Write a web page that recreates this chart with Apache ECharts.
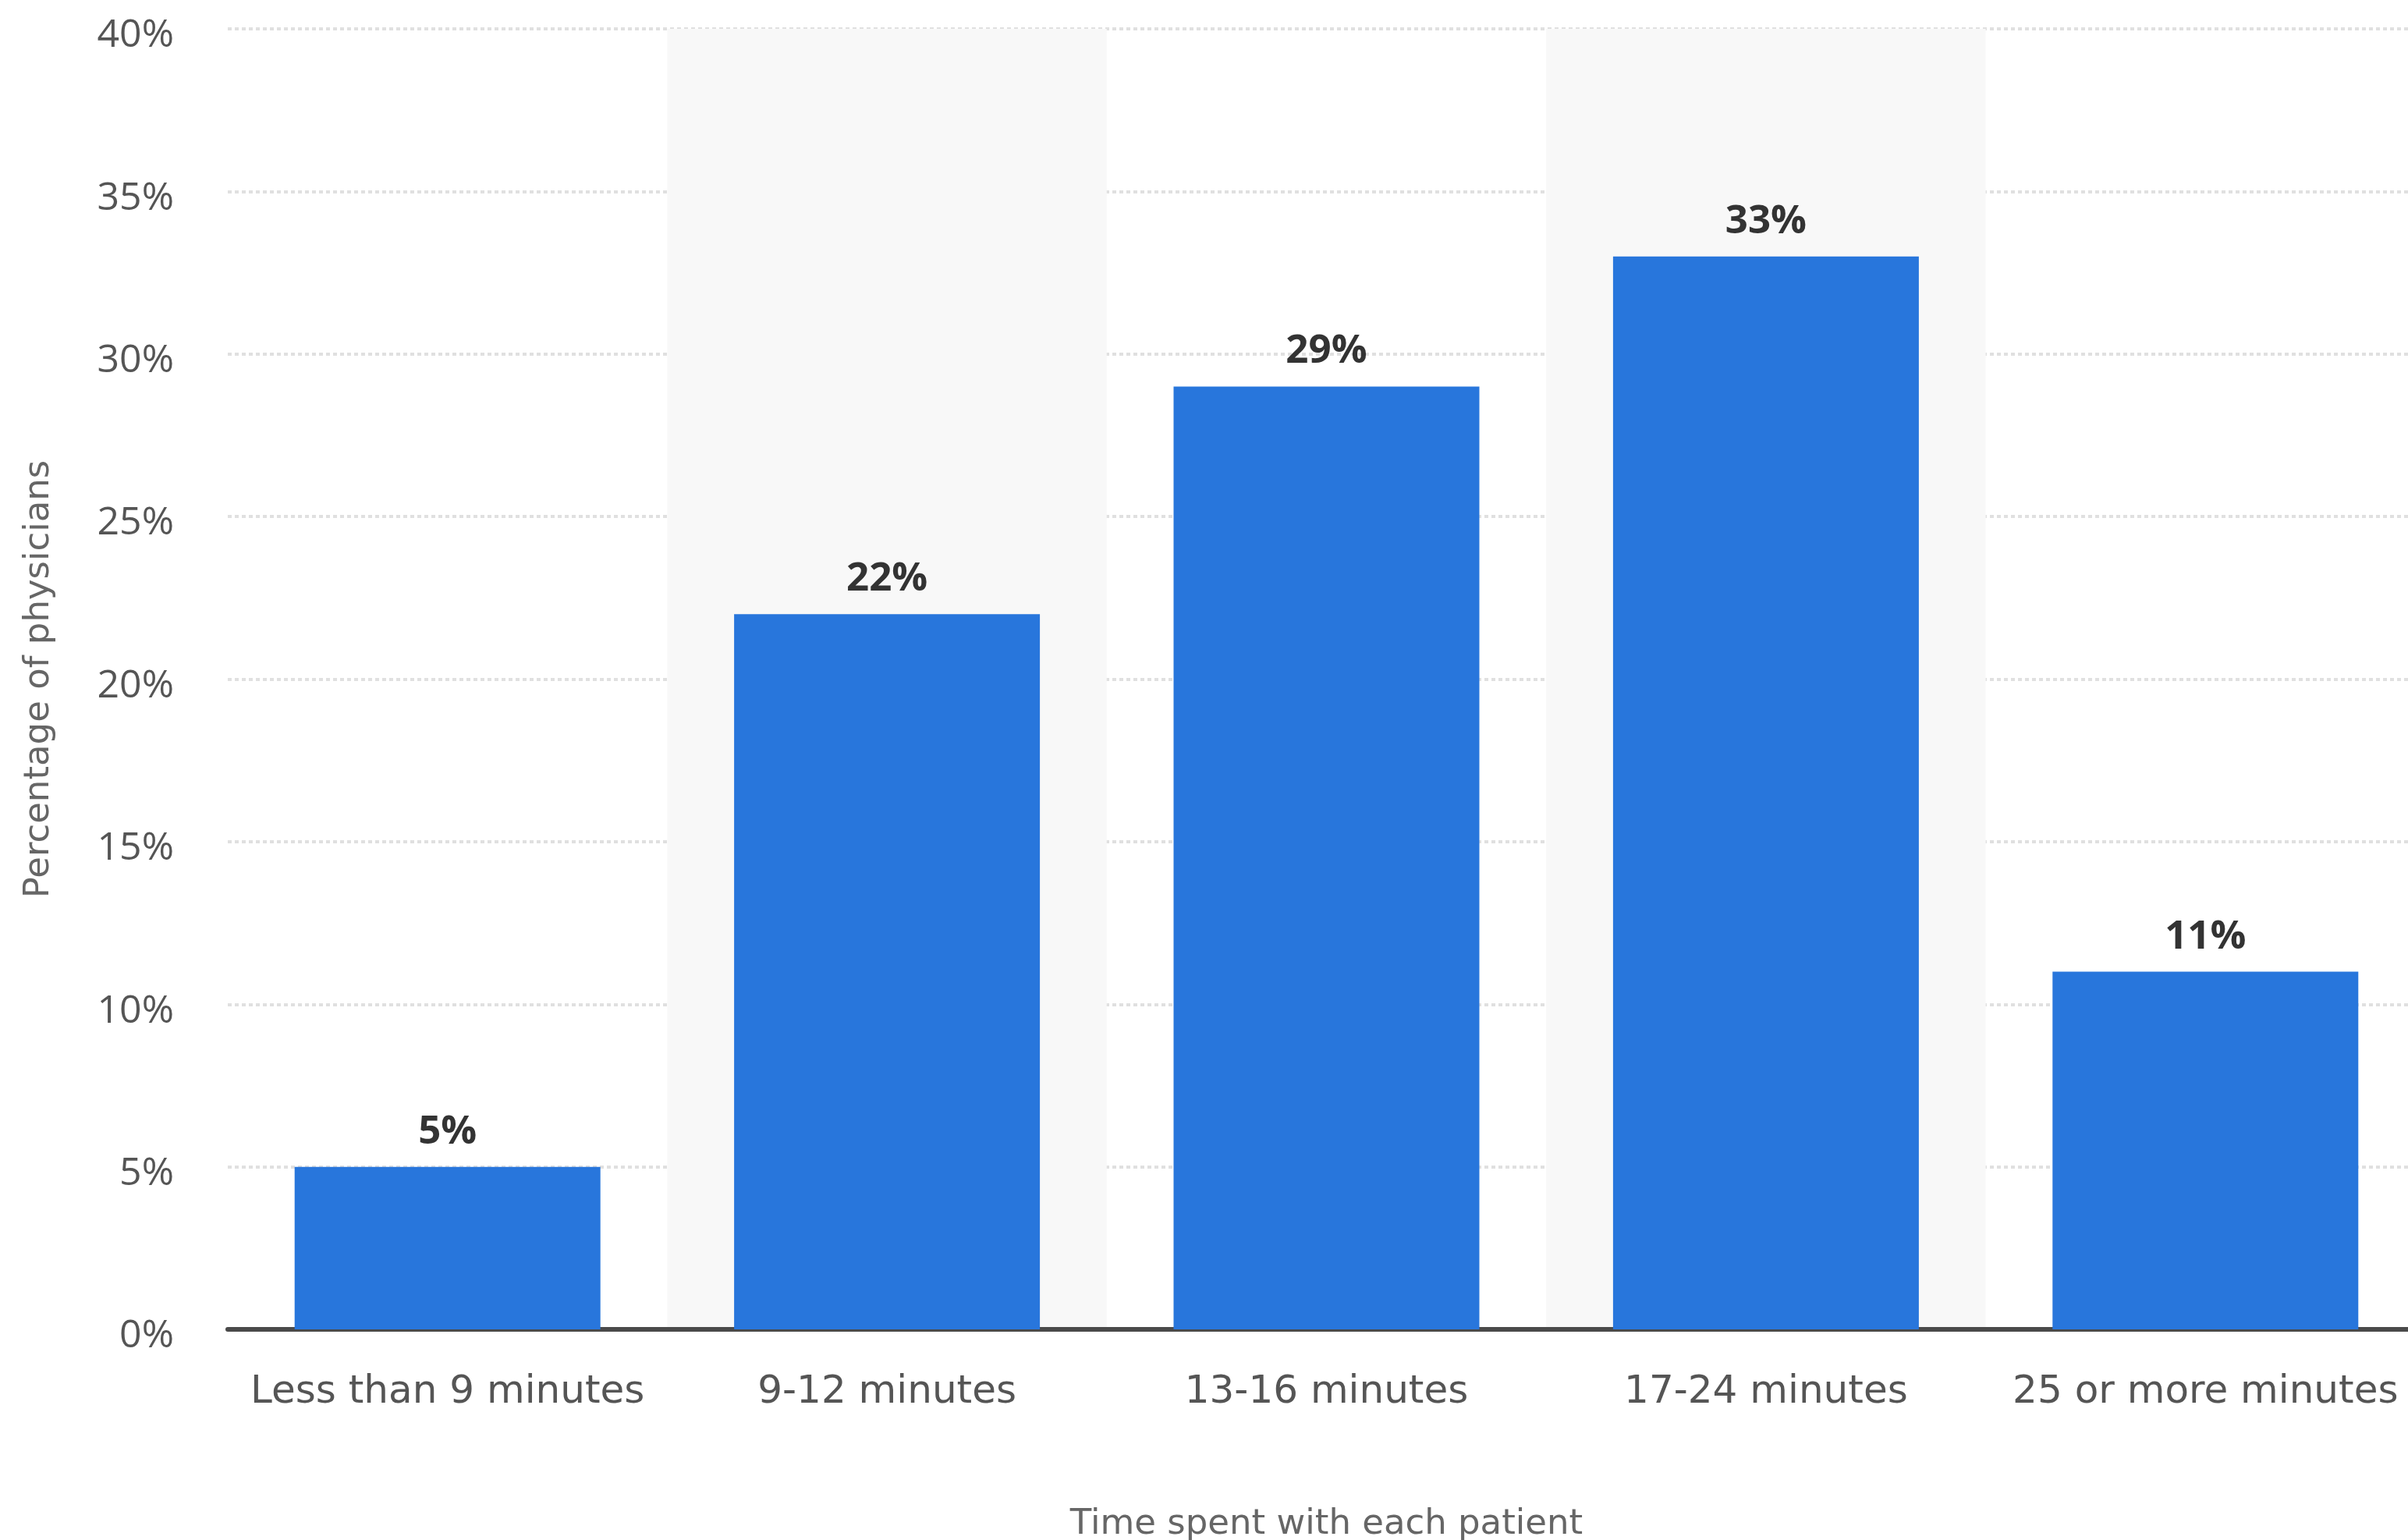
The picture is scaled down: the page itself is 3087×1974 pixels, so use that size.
<!DOCTYPE html>
<html>
<head>
<meta charset="utf-8">
<script src="https://cdn.jsdelivr.net/npm/echarts@6/dist/echarts.min.js"></script>
<style>
  html, body { margin: 0; padding: 0; background: #ffffff; }
  #chart { width: 3087px; height: 1974px; }
</style>
</head>
<body>
<div id="chart"></div>
<script>
const categories = ['Less than 9 minutes', '9-12 minutes', '13-16 minutes', '17-24 minutes', '25 or more minutes'];
const values = [5, 22, 29, 33, 11];
const yTicks = { min: 0, max: 40, interval: 5 };
const xAxisTitle = 'Time spent with each patient';
const yAxisTitle = 'Percentage of physicians';

const chart = echarts.init(document.getElementById('chart'), null, { renderer: 'canvas' });
chart.setOption({
  backgroundColor: '#ffffff',
  animation: false,
  grid: { left: 292, top: 37, right: -22, height: 1667, containLabel: false, outerBoundsMode: 'none' },
  xAxis: {
    type: 'category',
    data: categories,
    axisLine: { show: true, lineStyle: { color: '#4a4a4a', width: 6 } },
    axisTick: { show: false },
    splitArea: { show: true, areaStyle: { color: ['rgba(255,255,255,0)', '#f8f8f8'] } },
    axisLabel: { color: '#555555', fontFamily: 'DejaVu Sans', fontSize: 50, margin: 56, interval: 0 },
    name: xAxisTitle,
    nameLocation: 'middle',
    nameGap: 228,
    nameTextStyle: { color: '#666666', fontFamily: 'DejaVu Sans', fontSize: 45 }
  },
  yAxis: {
    type: 'value',
    min: yTicks.min,
    max: yTicks.max,
    interval: yTicks.interval,
    axisLine: { show: false },
    axisTick: { show: false },
    splitLine: { show: true, lineStyle: { color: '#e0e0e0', width: 4, type: [5, 4] } },
    axisLabel: {
      color: '#555555', fontFamily: 'Open Sans', fontSize: 50, margin: 69,
      formatter: '{t|{value}%}',
      rich: { t: { color: '#555555', fontFamily: 'Open Sans', fontSize: 50, padding: [18, 0, 0, 0] } }
    },
    name: yAxisTitle,
    nameLocation: 'middle',
    nameGap: 219,
    nameRotate: 90,
    nameTextStyle: { color: '#666666', fontFamily: 'DejaVu Sans', fontSize: 45 }
  },
  series: [{
    type: 'bar',
    data: values,
    barWidth: 392,
    itemStyle: { color: '#2876dc' },
    label: {
      show: true,
      position: 'top',
      distance: 19,
      formatter: '{c}%',
      color: '#333333',
      fontFamily: 'Open Sans',
      fontWeight: 'bold',
      fontSize: 51
    }
  }]
});
</script>
</body>
</html>
